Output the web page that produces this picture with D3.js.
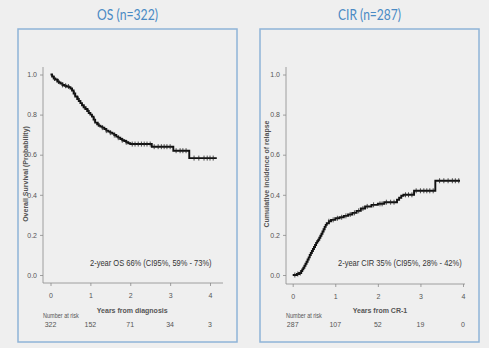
<!DOCTYPE html>
<html>
<head>
<meta charset="utf-8">
<script src="https://cdn.jsdelivr.net/npm/d3@7"></script>
<style>
  body { margin: 0; background: #efefef; }
  svg { display: block; }
</style>
</head>
<body>
<script>
// OS curve (step after): years, survival probability
const osTimes = [0, 0.04, 0.08, 0.12, 0.17, 0.21, 0.25, 0.3, 0.35, 0.4, 0.46, 0.5, 0.54, 0.58, 0.62, 0.67, 0.71, 0.75, 0.79, 0.83, 0.88, 0.92, 0.96, 1.0, 1.04, 1.08, 1.12, 1.17, 1.21, 1.25, 1.3, 1.35, 1.4, 1.45, 1.5, 1.55, 1.6, 1.65, 1.7, 1.75, 1.8, 1.85, 1.9, 1.95, 2.0, 2.54, 3.08, 3.48, 4.17]
const osValues = [1.0, 0.99, 0.98, 0.975, 0.965, 0.96, 0.955, 0.948, 0.944, 0.94, 0.937, 0.93, 0.92, 0.905, 0.89, 0.878, 0.868, 0.857, 0.847, 0.837, 0.828, 0.818, 0.808, 0.80, 0.79, 0.775, 0.76, 0.752, 0.745, 0.74, 0.735, 0.728, 0.72, 0.715, 0.71, 0.705, 0.698, 0.69, 0.685, 0.678, 0.672, 0.668, 0.662, 0.657, 0.653, 0.64, 0.62, 0.583, 0.583]
const osCensor = [0.1, 0.2, 0.3, 0.38, 0.45, 0.6, 0.7, 0.85, 0.95, 1.1, 1.2, 1.3, 1.4, 1.5, 1.6, 1.7, 1.8, 1.9, 2.05, 2.12, 2.2, 2.28, 2.35, 2.42, 2.5, 2.6, 2.7, 2.78, 2.85, 2.92, 3.0, 3.15, 3.25, 3.32, 3.4, 3.6, 3.72, 3.85, 3.93, 4.0, 4.08]
const osRisk = ["322", "152", "71", "34", "3"]

// CIR curve (step after): years, cumulative incidence
const cirTimes = [0, 0.1, 0.15, 0.2, 0.225, 0.25, 0.275, 0.3, 0.325, 0.35, 0.375, 0.4, 0.425, 0.45, 0.475, 0.5, 0.525, 0.55, 0.575, 0.6, 0.625, 0.65, 0.675, 0.7, 0.725, 0.75, 0.775, 0.8, 0.85, 0.9, 1.0, 1.1, 1.2, 1.3, 1.4, 1.5, 1.6, 1.7, 1.85, 2.0, 2.15, 2.45, 2.5, 2.55, 2.6, 2.85, 3.35, 3.93]
const cirValues = [0, 0.005, 0.01, 0.02, 0.028, 0.036, 0.046, 0.056, 0.066, 0.077, 0.088, 0.1, 0.11, 0.12, 0.13, 0.14, 0.15, 0.16, 0.168, 0.176, 0.186, 0.196, 0.206, 0.217, 0.228, 0.24, 0.25, 0.258, 0.268, 0.275, 0.283, 0.288, 0.295, 0.302, 0.31, 0.32, 0.332, 0.342, 0.35, 0.355, 0.363, 0.375, 0.385, 0.395, 0.40, 0.42, 0.47, 0.47]
const cirCensor = [0.05, 0.12, 0.18, 0.85, 0.95, 1.05, 1.15, 1.25, 1.35, 1.45, 1.55, 1.65, 1.75, 1.9, 2.05, 2.1, 2.2, 2.3, 2.38, 2.65, 2.72, 2.8, 2.9, 3.0, 3.08, 3.15, 3.22, 3.3, 3.45, 3.55, 3.65, 3.75, 3.82, 3.9]
const cirRisk = ["287", "107", "52", "19", "0"]

const yTicks = [0, 0.2, 0.4, 0.6, 0.8, 1.0]
const xTicks = [0, 1, 2, 3, 4]

const W = 489, H = 348

const svg = d3.select("body").append("svg")
    .attr("width", W)
    .attr("height", H)

svg.append("rect")
    .attr("width", W)
    .attr("height", H)
    .attr("fill", "#efefef")

function drawPanel(p) {
    // panel title
    svg.append("text")
        .attr("x", (p.boxX0 + p.boxX1) / 2)
        .attr("y", 20)
        .attr("text-anchor", "middle")
        .attr("font-family", "Lato, 'Open Sans', sans-serif")
        .attr("font-size", 15)
        .attr("fill", "#4a8ac4")
        .attr("textLength", p.titleW)
        .attr("lengthAdjust", "spacingAndGlyphs")
        .text(p.title)

    // box
    svg.append("rect")
        .attr("x", p.boxX0)
        .attr("y", 29)
        .attr("width", p.boxX1 - p.boxX0)
        .attr("height", 313)
        .attr("fill", "#efefef")
        .attr("stroke", "#8fb4d8")
        .attr("stroke-width", 1.5)

    const x = d3.scaleLinear().domain([0, 4]).range([p.x0, p.x4])
    const y = d3.scaleLinear().domain([0, 1]).range([275, 74.5])

    const g = svg.append("g")

    // y axis
    const yAxis = g.append("g")
        .attr("transform", "translate(" + p.axisX + ",0)")
        .call(d3.axisLeft(y).tickValues(yTicks).tickFormat(d3.format(".1f")).tickSize(3).tickPadding(3))
    yAxis.select(".domain").attr("d", "M0,67V" + p.axisY)

    // x axis
    const xAxis = g.append("g")
        .attr("transform", "translate(0," + p.axisY + ")")
        .call(d3.axisBottom(x).tickValues(xTicks).tickFormat(d3.format("d")).tickSize(3).tickPadding(7))
    xAxis.select(".domain").attr("d", "M" + p.axisX + ",0H" + p.axisEnd)

    g.selectAll(".domain, .tick line").attr("stroke", "#8a8a8a").attr("stroke-width", 0.8)
    g.selectAll(".tick text")
        .attr("font-family", "'Liberation Sans', Arial, sans-serif")
        .attr("font-size", 7)
        .attr("fill", "#555")

    // y label
    svg.append("text")
        .attr("transform", "translate(" + p.yLabX + ",174) rotate(-90)")
        .attr("text-anchor", "middle")
        .attr("font-family", "'Liberation Sans', Arial, sans-serif")
        .attr("font-size", 7)
        .attr("font-weight", "bold")
        .attr("fill", "#555")
        .text(p.yLabel)

    // x label
    svg.append("text")
        .attr("x", x(2.05))
        .attr("y", 313)
        .attr("text-anchor", "middle")
        .attr("font-family", "'Liberation Sans', Arial, sans-serif")
        .attr("font-size", 7)
        .attr("font-weight", "bold")
        .attr("fill", "#555")
        .text(p.xLabel)

    // number at risk
    svg.append("text")
        .attr("transform", "translate(" + p.axisX + ",318) scale(0.85,1)")
        .attr("font-family", "'Liberation Sans', Arial, sans-serif")
        .attr("font-size", 6.5)
        .attr("fill", "#555")
        .text("Number at risk")

    svg.selectAll(null)
        .data(p.risk)
        .enter()
        .append("text")
        .attr("x", (d, i) => x(xTicks[i]))
        .attr("y", 327)
        .attr("text-anchor", "middle")
        .attr("font-family", "'Liberation Sans', Arial, sans-serif")
        .attr("font-size", 7)
        .attr("fill", "#555")
        .text(d => d)

    // curve
    const pts = p.times.map((t, i) => [t, p.values[i]])
    const line = d3.line()
        .x(d => x(d[0]))
        .y(d => y(d[1]))
        .curve(d3.curveStepAfter)
    svg.append("path")
        .datum(pts)
        .attr("d", line)
        .attr("fill", "none")
        .attr("stroke", "#111")
        .attr("stroke-width", 1.9)

    // censor marks
    const bis = d3.bisector(d => d).right
    svg.selectAll(null)
        .data(p.censor)
        .enter()
        .append("line")
        .attr("x1", d => x(d))
        .attr("x2", d => x(d))
        .attr("y1", d => y(p.values[Math.max(0, bis(p.times, d) - 1)]) - 2.5)
        .attr("y2", d => y(p.values[Math.max(0, bis(p.times, d) - 1)]) + 2.5)
        .attr("stroke", "#222")
        .attr("stroke-width", 0.8)

    // annotation (condensed like the original narrow font)
    svg.append("text")
        .attr("transform", "translate(" + p.noteX + ",266) scale(0.79,1)")
        .attr("font-family", "'Liberation Sans', Arial, sans-serif")
        .attr("font-size", 9.5)
        .attr("fill", "#333")
        .text(p.note)
}

drawPanel({
    title: "OS (n=322)", titleW: 61, boxX0: 18, boxX1: 237,
    x0: 50.5, x4: 210, axisX: 43, axisY: 283, axisEnd: 223,
    yLabX: 28, yLabel: "Overall Survival (Probability)",
    xLabel: "Years from diagnosis", risk: osRisk,
    times: osTimes, values: osValues, censor: osCensor,
    noteX: 90, note: "2-year OS 66% (CI95%, 59% - 73%)"
})

drawPanel({
    title: "CIR (n=287)", titleW: 63, boxX0: 260, boxX1: 479,
    x0: 292.7, x4: 463, axisX: 286, axisY: 284, axisEnd: 465,
    yLabX: 269, yLabel: "Cumulative incidence of relapse",
    xLabel: "Years from CR-1", risk: cirRisk,
    times: cirTimes, values: cirValues, censor: cirCensor,
    noteX: 338, note: "2-year CIR 35% (CI95%, 28% - 42%)"
})
</script>
</body>
</html>
